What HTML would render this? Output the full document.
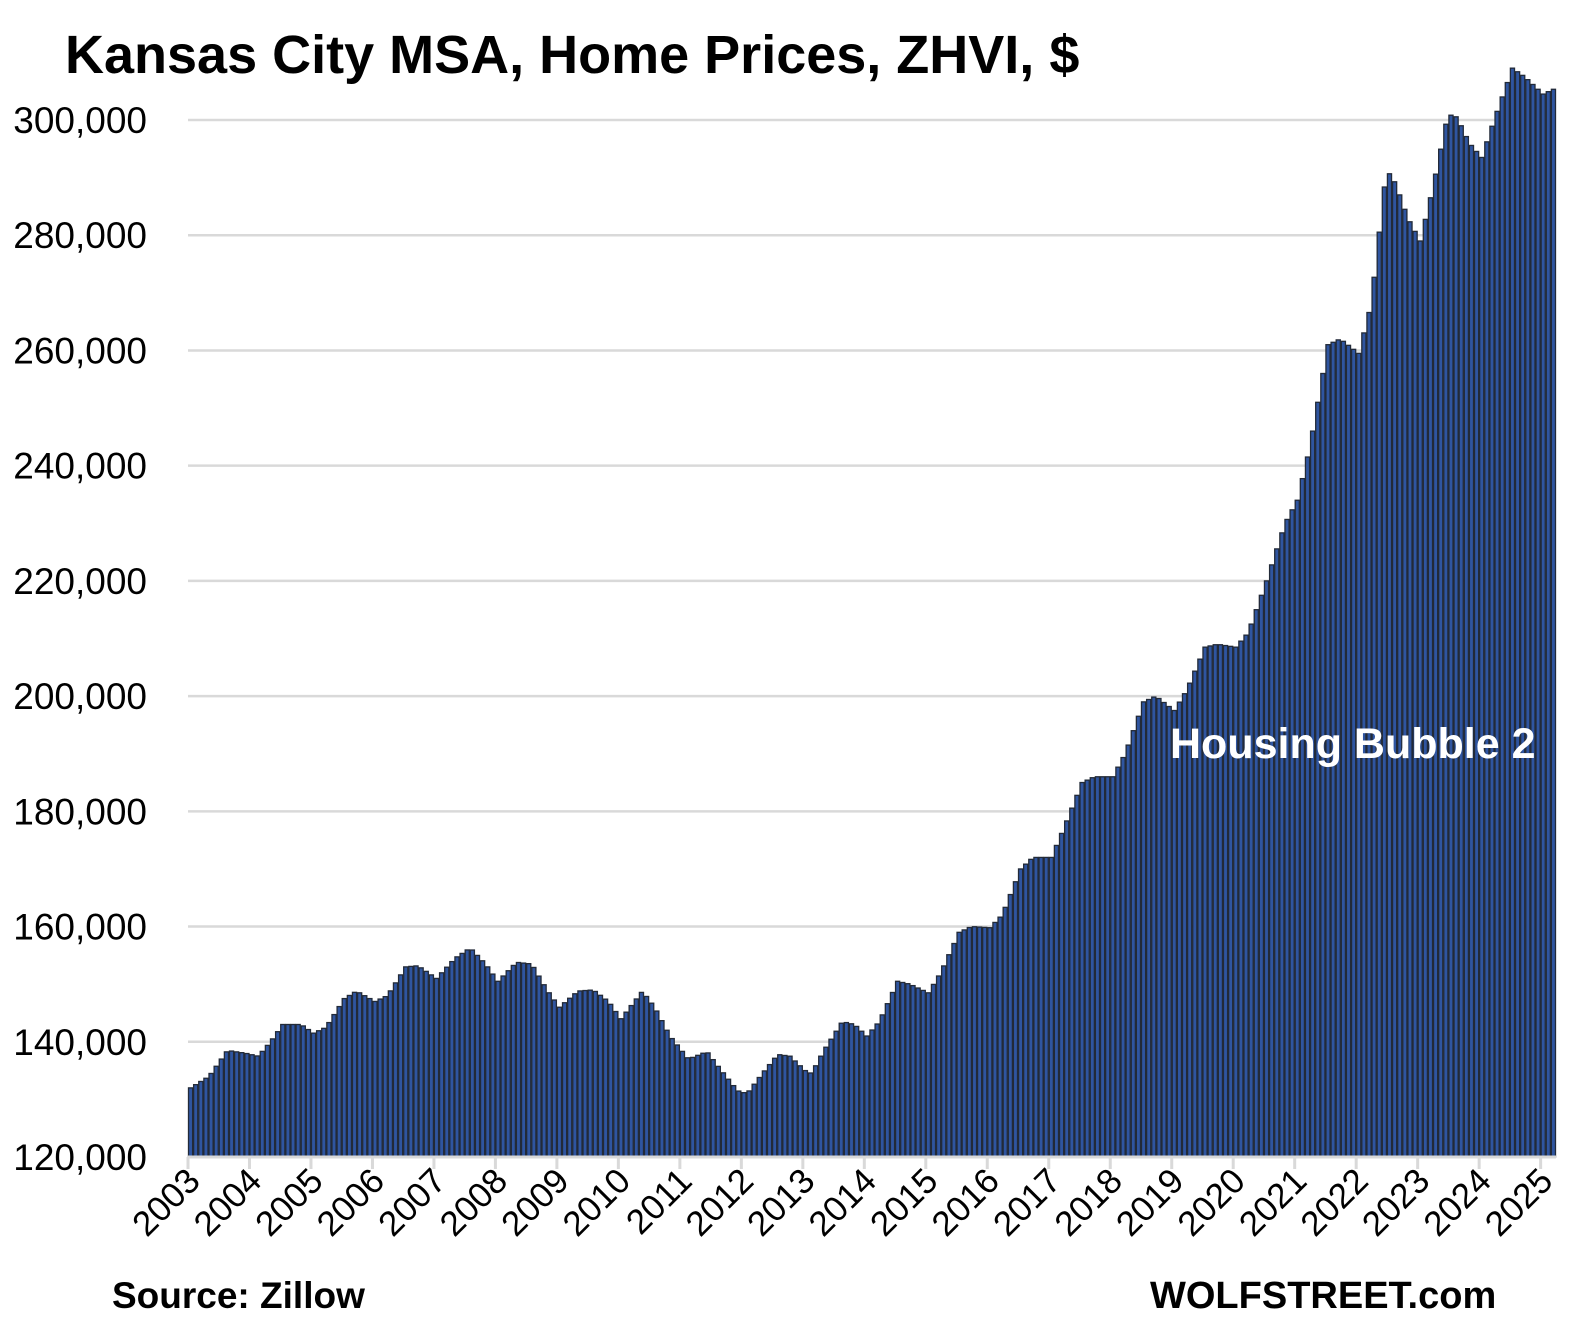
<!DOCTYPE html>
<html><head><meta charset="utf-8"><style>
body{margin:0;background:#fff;width:1580px;height:1338px;overflow:hidden}
svg text{font-family:"Liberation Sans",sans-serif}
</style></head><body>
<svg id="s" width="1580" height="1338" xmlns="http://www.w3.org/2000/svg">
<text x="65" y="73" font-size="54" font-weight="bold" fill="#000">Kansas City MSA, Home Prices, ZHVI, $</text>
<g id="grid"></g>
<g id="bars"></g>
<g id="ax"></g>
<text x="1170" y="758" font-size="43" font-weight="bold" fill="#fff">Housing Bubble 2</text>
<text x="112" y="1308" font-size="37" font-weight="bold" fill="#000">Source: Zillow</text>
<text x="1150" y="1308" font-size="38" font-weight="bold" fill="#000">WOLFSTREET.com</text>
</svg>
<script>
const NS="http://www.w3.org/2000/svg";
function el(p,t,a,txt){const e=document.createElementNS(NS,t);for(const k in a)e.setAttribute(k,a[k]);if(txt)e.textContent=txt;p.appendChild(e);return e;}
const y0=1157,y300=120,yv=v=>y0-(v-120000)*(y0-y300)/180000;
const g=document.getElementById('grid'),b=document.getElementById('bars'),ax=document.getElementById('ax');
for(let v=120000;v<=300000;v+=20000){const y=yv(v);
 if(v>120000)el(g,'line',{x1:188,x2:1556,y1:y,y2:y,stroke:'#d9d9d9','stroke-width':2.5});
 el(g,'text',{x:147,y:y+13,'font-size':37,'text-anchor':'end',fill:'#000'},v.toLocaleString('en-US'));}
const k=[[2003.0,132000],[2003.3,134000],[2003.6,138500],[2003.9,138000],[2004.1,137500],[2004.3,140000],[2004.5,143000],[2004.8,143000],[2005.0,141500],[2005.2,142500],[2005.5,147500],[2005.7,148800],[2006.0,147000],[2006.2,148000],[2006.5,153000],[2006.7,153200],[2007.0,151000],[2007.3,154500],[2007.55,156300],[2007.8,153500],[2008.0,150500],[2008.3,153800],[2008.55,153500],[2008.8,149000],[2009.0,146000],[2009.3,148800],[2009.55,149000],[2009.8,147000],[2010.0,144000],[2010.35,148800],[2010.55,146000],[2010.8,141000],[2011.1,137000],[2011.4,138300],[2011.6,135500],[2011.9,131500],[2012.05,131000],[2012.3,134500],[2012.55,137800],[2012.75,137500],[2013.0,135000],[2013.1,134500],[2013.3,138500],[2013.6,143500],[2013.8,143000],[2014.0,141000],[2014.2,143500],[2014.5,150500],[2014.7,150000],[2015.0,148500],[2015.2,152000],[2015.5,159000],[2015.7,160000],[2016.0,159800],[2016.2,162000],[2016.5,170000],[2016.7,172000],[2017.0,172000],[2017.2,177000],[2017.5,185000],[2017.7,186000],[2018.0,186000],[2018.2,190000],[2018.5,199000],[2018.7,200000],[2019.0,197500],[2019.2,201000],[2019.5,208500],[2019.7,209000],[2020.0,208500],[2020.2,211000],[2020.5,220000],[2020.8,230000],[2021.0,234000],[2021.2,243000],[2021.5,261000],[2021.7,262000],[2022.0,259500],[2022.2,268000],[2022.45,291500],[2022.6,289000],[2022.8,283000],[2023.0,279000],[2023.2,288000],[2023.45,301000],[2023.6,300500],[2023.8,296000],[2024.0,293500],[2024.2,300000],[2024.5,309000],[2024.7,307500],[2025.0,304500],[2025.2,305500]];
function val(t){for(let i=0;i<k.length-1;i++){if(t<=k[i+1][0]){const f=(t-k[i][0])/(k[i+1][0]-k[i][0]);return k[i][1]+f*(k[i+1][1]-k[i][1]);}}return k[k.length-1][1];}
const N=267,x0=188,x1=1556,w=(x1-x0)/N;
for(let i=0;i<N;i++){const t=2003+i/12,v=val(t),y=yv(v);
 el(b,'rect',{x:x0+i*w+0.5,y:y,width:w-1,height:y0-y,fill:'#2f55a0',stroke:'#222a38','stroke-width':1.3});}
el(ax,'line',{x1:x0,x2:x1,y1:y0,y2:y0,stroke:'#d9d9d9','stroke-width':3});
for(let yr=2003;yr<=2025;yr++){const x=x0+(yr-2003)*12*w;
 el(ax,'line',{x1:x,x2:x,y1:y0,y2:y0+12,stroke:'#d9d9d9','stroke-width':3});
 el(ax,'text',{x:x+14,y:y0+26,'font-size':35,'text-anchor':'end',transform:`rotate(-45 ${x+14} ${y0+26})`,fill:'#000'},String(yr));}
</script>
</body></html>
